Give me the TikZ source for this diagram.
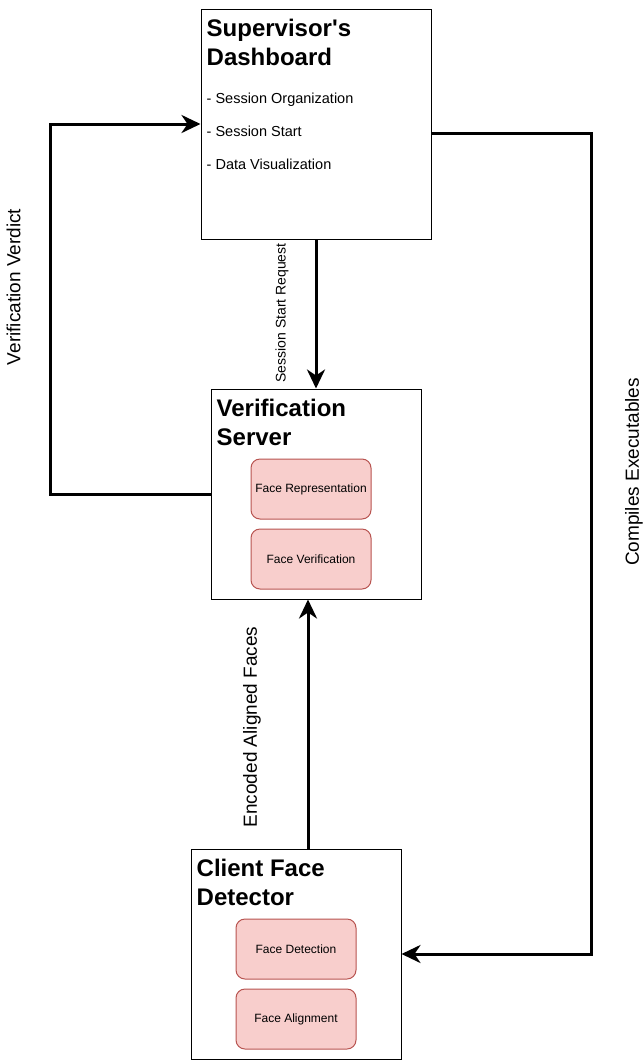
\documentclass[tikz,border=0pt]{standalone}
\usepackage{fontspec}
\setmainfont{Liberation Sans}
\usetikzlibrary{arrows.meta,positioning}
\definecolor{unitfill}{HTML}{F8CECC}
\definecolor{unitline}{HTML}{B85450}

\begin{document}
\begin{tikzpicture}[x=1pt,y=-1pt,
                        block/.style={draw, line width=1pt, fill=white, inner sep=0pt},
                        heading/.style={anchor=north west, align=left, inner sep=0pt, font=\fontsize{24}{29}\selectfont\bfseries},
                        item/.style={anchor=base west, inner sep=0pt, font=\fontsize{14.5}{17}\selectfont},
                        unit/.style={draw=unitline, fill=unitfill, rounded corners=9pt, line width=1pt, minimum width=120pt, minimum height=60pt, inner sep=0pt, font=\fontsize{12}{14}\selectfont},
                        flow/.style={line width=3pt, -{Stealth[length=19pt,width=18pt,inset=6pt]}},
                        smalltag/.style={inner sep=0pt, font=\fontsize{14}{16}\selectfont},
                        bigtag/.style={inner sep=0pt, font=\fontsize{19}{22}\selectfont}]
                        \useasboundingbox (0,0) rectangle (644,1061);

                        \node[block, minimum width=230pt, minimum height=230pt] (dash) at (316,124) {};
                        \node[heading] (dashtitle) at ([xshift=6pt,yshift=-10pt]dash.north west) {Supervisor\textquotesingle s\\Dashboard};
                        \node[item] (org) at ([xshift=6pt,yshift=-95pt]dash.north west) {- Session Organization};
                        \node[item] (start) at ([xshift=6pt,yshift=-128pt]dash.north west) {- Session Start};
                        \node[item] (vis) at ([xshift=6pt,yshift=-161pt]dash.north west) {- Data Visualization};

                        \node[block, minimum width=210pt, minimum height=210pt] (srv) at (316,494) {};
                        \node[heading] (srvtitle) at ([xshift=6pt,yshift=-10pt]srv.north west) {Verification\\Server};
                        \node[unit] (rep) at ([xshift=-5pt,yshift=5pt]srv.center) {Face Representation};
                        \node[unit, below=9pt of rep] (ver) {Face Verification};

                        \node[block, minimum width=210pt, minimum height=210pt] (cfd) at (296,954) {};
                        \node[heading] (cfdtitle) at ([xshift=6pt,yshift=-10pt]cfd.north west) {Client Face\\Detector};
                        \node[unit] (det) at ([yshift=5pt]cfd.center) {Face Detection};
                        \node[unit, below=9pt of det] (ali) {Face Alignment};

                        \draw[flow] (dash.south) -- (srv.north) node[pos=0.5, xshift=-34pt, yshift=1pt, rotate=90, smalltag] (ssr) {Session Start Request};
                        \draw[flow] ([xshift=12pt]cfd.north) -- ([xshift=-8pt]srv.south) node[pos=0.5, xshift=-56pt, yshift=-3pt, rotate=90, bigtag] (eaf) {Encoded Aligned Faces};
                        \draw[flow] (srv.west) -- ++(-160,0) |- (dash.west);
                        \draw[flow] ([yshift=-9pt]dash.east) -- ++(160,0) |- (cfd.east);

                        \node[bigtag, rotate=90] (vv) at (13.5,287) {Verification Verdict};
                        \node[bigtag, rotate=90] (ce) at (634,472) {Compiles Executables};
                    \end{tikzpicture}
\end{document}
